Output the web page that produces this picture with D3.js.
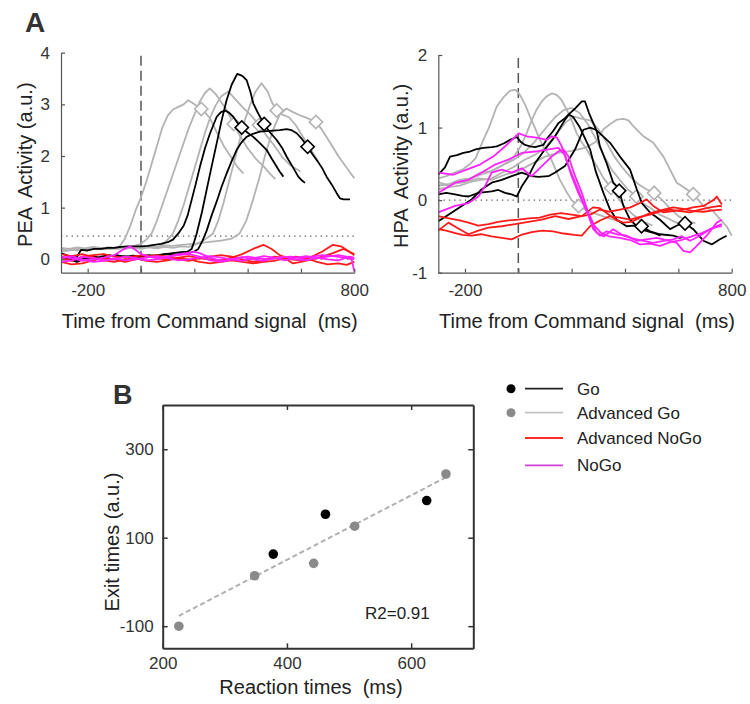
<!DOCTYPE html>
<html>
<head>
<meta charset="utf-8">
<script src="https://cdn.jsdelivr.net/npm/d3@7"></script>
<style>
  body { margin: 0; background: #fff; }
  svg { display: block; }
  text { font-family: 'Liberation Sans', Arial, Helvetica, sans-serif; white-space: pre; }
</style>
</head>
<body>
<svg id="fig" width="750" height="704"></svg>
<script>
// ---------- time axis ----------
const timeDomain = [-300, 800];
const timeTicks = [-200, 0, 200, 400, 600, 800];
const timeTickLabels = [-200, 800];

// ---------- PEA activity (left panel) ----------
const peaTicks = [0, 1, 2, 3, 4];
const peaThreshold = 0.45;
const peaAdvGo = [
  [[-300,0.17],[-275,0.2],[-250,0.18],[-225,0.21],[-200,0.19],[-175,0.22],[-150,0.2],[-125,0.23],[-100,0.22],[-80,0.25],[-60,0.4],[-40,0.65],[-20,0.95],[0,1.2],[20,1.5],[40,1.85],[60,2.2],[80,2.55],[100,2.78],[120,2.9],[140,2.95],[160,3.0],[177,3.08],[195,3.02],[215,2.95],[235,2.88],[260,2.72],[285,2.45],[310,2.2],[335,2.0],[360,1.8],[384,1.66]],
  [[-300,0.22],[-270,0.2],[-240,0.23],[-210,0.21],[-180,0.24],[-150,0.22],[-120,0.2],[-90,0.23],[-60,0.22],[-30,0.25],[0,0.3],[20,0.38],[40,0.5],[60,0.75],[80,1.05],[100,1.35],[120,1.65],[140,1.95],[160,2.25],[180,2.55],[200,2.8],[220,3.05],[240,3.22],[258,3.31],[280,3.2],[300,3.05],[320,2.9],[348,2.62],[370,2.4],[400,2.15],[430,1.95],[460,1.8],[485,1.65],[504,1.55]],
  [[-300,0.18],[-270,0.2],[-240,0.17],[-210,0.2],[-180,0.22],[-150,0.19],[-120,0.21],[-90,0.2],[-60,0.23],[-30,0.21],[0,0.22],[30,0.24],[60,0.22],[80,0.28],[100,0.38],[120,0.5],[140,0.75],[160,1.05],[180,1.4],[200,1.75],[220,2.1],[240,2.45],[260,2.75],[280,2.98],[300,3.15],[327,3.25],[350,3.12],[380,2.95],[410,2.8],[443,2.6],[470,2.4],[500,2.2],[530,1.98],[560,1.82],[598,1.7]],
  [[-300,0.2],[-270,0.18],[-240,0.21],[-210,0.19],[-180,0.22],[-150,0.2],[-120,0.23],[-90,0.21],[-60,0.2],[-30,0.22],[0,0.2],[30,0.23],[60,0.21],[90,0.24],[120,0.22],[150,0.25],[180,0.24],[200,0.28],[230,0.35],[250,0.42],[270,0.5],[290,0.75],[310,1.1],[330,1.5],[350,1.9],[370,2.3],[390,2.7],[410,3.0],[430,3.25],[452,3.41],[475,3.25],[490,3.05],[509,2.88],[530,2.8],[555,2.75],[580,2.6],[610,2.35],[640,2.1],[664,1.9]],
  [[-300,0.15],[-270,0.17],[-240,0.2],[-210,0.18],[-180,0.2],[-150,0.22],[-120,0.2],[-90,0.23],[-60,0.22],[-30,0.24],[0,0.23],[30,0.25],[60,0.24],[90,0.27],[120,0.26],[150,0.28],[200,0.3],[250,0.33],[300,0.36],[340,0.4],[370,0.5],[395,0.75],[420,1.15],[445,1.6],[470,2.1],[495,2.5],[520,2.8],[545,2.92],[570,2.85],[600,2.78],[630,2.72],[656,2.66],[680,2.5],[710,2.25],[740,2.0],[770,1.78],[800,1.57]]
];
const peaGo = [
  [[-300,0.12],[-280,0.08],[-260,0.02],[-240,0.05],[-225,0.18],[-200,0.17],[-175,0.2],[-150,0.2],[-125,0.22],[-100,0.22],[-75,0.24],[-50,0.25],[-25,0.25],[0,0.25],[25,0.26],[50,0.28],[75,0.3],[100,0.33],[120,0.38],[140,0.5],[160,0.65],[175,0.85],[190,1.15],[205,1.45],[221,1.79],[240,2.15],[259,2.44],[284,2.76],[300,2.85],[315,2.88],[330,2.84],[346,2.76],[362,2.64],[380,2.54],[400,2.45],[421,2.37],[446,2.25],[471,2.12],[490,1.95],[509,1.79],[520,1.7],[534,1.6]],
  [[-300,0.05],[-270,0.0],[-240,-0.05],[-210,0.02],[-180,0.0],[-150,0.05],[-120,0.08],[-90,0.05],[-60,0.06],[-30,0.04],[0,0.05],[30,0.06],[60,0.08],[90,0.1],[120,0.12],[150,0.14],[175,0.15],[190,0.2],[200,0.35],[209,0.5],[228,0.9],[246,1.34],[265,1.8],[284,2.25],[302,2.68],[321,3.08],[340,3.38],[361,3.59],[380,3.55],[396,3.47],[410,3.25],[421,3.02],[440,2.82],[459,2.64],[485,2.45],[509,2.31],[530,2.15],[546,1.99],[570,1.78],[590,1.6],[605,1.52],[615,1.48]],
  [[-300,0.0],[-270,0.04],[-240,-0.02],[-210,0.03],[-180,0.06],[-150,0.02],[-120,0.05],[-90,0.08],[-60,0.04],[-30,0.07],[0,0.05],[30,0.08],[60,0.06],[90,0.1],[120,0.08],[150,0.11],[175,0.12],[200,0.15],[215,0.2],[230,0.35],[246,0.55],[265,0.85],[284,1.12],[302,1.4],[321,1.66],[340,1.9],[359,2.12],[378,2.27],[396,2.37],[420,2.43],[446,2.47],[470,2.48],[496,2.49],[520,2.5],[546,2.52],[565,2.5],[584,2.44],[605,2.32],[625,2.18],[645,2.02],[665,1.88],[680,1.76],[696,1.6],[715,1.45],[734,1.28],[746,1.18],[760,1.16],[784,1.16]]
];
const peaAdvNoGo = [
  [[-300,0.02],[-260,-0.03],[-220,0.05],[-180,0.08],[-140,0.1],[-100,0.05],[-60,0.03],[-20,0.06],[20,0.08],[60,0.02],[100,0.0],[140,0.03],[180,0.06],[220,0.02],[260,0.0],[300,-0.02],[340,0.03],[380,0.1],[420,0.2],[459,0.28],[490,0.2],[520,0.08],[560,0.0],[600,-0.02],[640,0.05],[680,0.15],[720,0.28],[750,0.25],[780,0.15],[800,0.08]],
  [[-300,-0.05],[-260,-0.1],[-220,-0.08],[-180,-0.02],[-140,0.02],[-100,0.0],[-60,-0.05],[-20,0.0],[20,0.05],[60,0.08],[100,0.05],[140,0.0],[180,-0.03],[220,0.02],[260,0.05],[300,0.08],[340,0.05],[380,0.0],[420,-0.05],[460,-0.02],[500,0.05],[540,0.02],[570,-0.08],[600,-0.05],[640,0.0],[680,0.05],[720,0.12],[760,0.2],[800,0.1]],
  [[-300,0.1],[-260,0.06],[-220,0.1],[-180,0.04],[-140,-0.02],[-100,-0.05],[-60,0.0],[-20,0.02],[20,-0.03],[60,-0.05],[100,-0.02],[140,0.02],[180,0.0],[220,-0.05],[260,-0.08],[300,-0.05],[340,-0.02],[380,-0.05],[420,-0.08],[460,-0.05],[500,-0.03],[540,0.02],[580,0.05],[620,0.02],[660,-0.05],[700,-0.1],[740,-0.08],[771,-0.11],[800,-0.05]]
];
const peaNoGo = [
  [[-300,0.05],[-260,0.02],[-220,-0.03],[-180,0.0],[-140,0.03],[-100,0.08],[-70,0.18],[-41,0.25],[-20,0.18],[0,0.1],[30,0.05],[60,0.02],[100,0.05],[140,0.1],[170,0.12],[196,0.15],[220,0.12],[250,0.05],[280,0.0],[320,-0.03],[360,0.02],[400,0.05],[440,0.02],[480,0.0],[520,0.03],[560,0.05],[600,0.02],[640,0.05],[680,0.08],[720,0.06],[760,0.03],[790,0.0],[800,-0.24]],
  [[-300,-0.05],[-260,-0.02],[-220,0.05],[-180,0.02],[-140,-0.02],[-100,0.0],[-60,0.05],[-20,0.02],[20,-0.02],[60,0.0],[100,0.04],[140,0.08],[180,0.1],[220,0.05],[260,-0.02],[300,-0.05],[340,0.0],[380,0.04],[420,0.0],[460,-0.03],[500,0.02],[540,0.05],[580,0.0],[620,-0.02],[660,0.03],[700,0.0],[740,-0.02],[780,0.05],[800,0.03]],
  [[-300,0.02],[-260,0.06],[-220,0.0],[-180,-0.05],[-140,-0.03],[-100,0.02],[-60,-0.02],[-20,0.0],[20,0.03],[60,0.06],[100,0.02],[140,-0.02],[180,0.0],[220,0.03],[260,0.06],[300,0.03],[340,0.0],[380,-0.03],[420,0.02],[460,0.06],[500,0.03],[540,-0.02],[580,0.03],[620,0.06],[660,0.02],[700,0.05],[740,0.08],[780,0.04],[800,0.0]]
];

// ---------- HPA activity (right panel) ----------
const hpaTicks = [-1, 0, 1, 2];
const hpaThreshold = 0;
const hpaAdvGo = [
  [[-300,0.3],[-270,0.33],[-240,0.38],[-210,0.42],[-180,0.5],[-160,0.58],[-131,0.83],[-110,1.0],[-81,1.29],[-55,1.42],[-31,1.51],[-10,1.52],[6,1.45],[25,1.32],[44,1.15],[62,1.0],[81,0.83],[100,0.7],[119,0.6],[140,0.42],[156,0.28],[180,0.12],[200,0.0],[226,-0.08],[260,-0.15],[300,-0.2],[340,-0.25],[384,-0.3]],
  [[-300,0.2],[-260,0.22],[-220,0.28],[-180,0.3],[-140,0.35],[-100,0.4],[-60,0.48],[-20,0.58],[10,0.75],[31,0.92],[50,1.1],[69,1.25],[88,1.36],[106,1.43],[125,1.47],[144,1.45],[162,1.38],[181,1.25],[200,1.1],[219,0.92],[237,0.8],[256,0.7],[275,0.58],[294,0.47],[320,0.3],[344,0.19],[370,0.05],[400,-0.1],[430,-0.2],[460,-0.28],[503,-0.35]],
  [[-300,0.25],[-260,0.2],[-220,0.27],[-180,0.3],[-140,0.38],[-100,0.4],[-60,0.48],[-20,0.55],[20,0.65],[60,0.8],[100,0.98],[140,1.15],[170,1.24],[200,1.27],[230,1.2],[260,1.05],[290,0.85],[320,0.62],[350,0.42],[380,0.28],[410,0.15],[443,0.05],[470,-0.05],[500,-0.12],[530,-0.2],[560,-0.25],[598,-0.32]],
  [[-300,0.15],[-260,0.18],[-220,0.2],[-180,0.25],[-140,0.28],[-100,0.3],[-60,0.38],[-20,0.45],[20,0.55],[60,0.62],[100,0.72],[140,0.9],[180,1.08],[210,1.15],[240,1.12],[270,1.1],[300,0.98],[330,0.8],[360,0.6],[390,0.45],[420,0.32],[450,0.22],[480,0.15],[509,0.1],[540,0.0],[570,-0.12],[600,-0.22],[630,-0.28],[664,-0.32]],
  [[-300,0.2],[-250,0.22],[-200,0.25],[-150,0.3],[-100,0.28],[-50,0.35],[0,0.4],[50,0.5],[100,0.6],[150,0.65],[200,0.68],[250,0.72],[290,0.8],[320,0.98],[345,1.05],[370,1.11],[395,1.12],[413,1.1],[431,1.02],[469,0.88],[506,0.79],[544,0.6],[569,0.42],[594,0.24],[631,0.15],[656,0.08],[694,-0.08],[730,-0.15],[760,-0.28],[781,-0.36],[800,-0.49]]
];
const hpaGo = [
  [[-300,0.35],[-275,0.45],[-256,0.6],[-230,0.62],[-206,0.65],[-181,0.67],[-160,0.7],[-131,0.72],[-100,0.73],[-81,0.74],[-55,0.78],[-31,0.83],[-6,0.87],[10,0.8],[25,0.76],[44,0.74],[63,0.73],[94,0.76],[110,0.86],[130,0.95],[150,1.06],[175,1.13],[194,1.2],[215,1.27],[238,1.36],[250,1.36],[265,1.2],[281,1.06],[294,0.95],[306,0.74],[331,0.51],[356,0.24],[375,0.17],[394,-0.08],[419,-0.27],[456,-0.4],[506,-0.45],[533,-0.49]],
  [[-300,0.08],[-270,0.1],[-237,0.08],[-210,0.06],[-187,0.05],[-150,0.1],[-100,0.12],[-75,0.14],[-50,0.1],[-25,0.08],[-6,0.05],[13,0.19],[38,0.33],[63,0.51],[100,0.7],[138,0.88],[175,1.11],[190,1.18],[205,1.15],[231,1.0],[250,0.85],[269,0.7],[290,0.4],[319,0.1],[344,-0.13],[369,-0.27],[406,-0.36],[430,-0.35],[462,-0.36],[494,-0.43],[531,-0.47],[581,-0.49],[606,-0.52],[617,-0.5]],
  [[-300,-0.29],[-262,-0.2],[-212,-0.08],[-175,0.01],[-137,0.15],[-100,0.24],[-62,0.28],[-25,0.33],[13,0.38],[50,0.33],[75,0.32],[113,0.33],[138,0.38],[175,0.47],[213,0.7],[244,0.97],[270,1.0],[290,0.97],[306,0.92],[344,0.79],[381,0.6],[419,0.42],[444,0.15],[463,-0.04],[494,-0.17],[531,-0.27],[569,-0.4],[595,-0.35],[621,-0.31],[656,-0.4],[694,-0.56],[725,-0.61],[756,-0.54],[781,-0.49]]
];
const hpaAdvNoGo = [
  [[-300,-0.22],[-260,-0.25],[-220,-0.28],[-187,-0.31],[-150,-0.35],[-112,-0.33],[-75,-0.3],[-37,-0.28],[0,-0.27],[40,-0.25],[80,-0.24],[120,-0.2],[160,-0.18],[200,-0.2],[238,-0.22],[270,-0.2],[306,-0.13],[340,-0.16],[381,-0.13],[420,-0.1],[456,-0.04],[481,0.01],[506,-0.08],[544,-0.17],[580,-0.15],[619,-0.13],[655,-0.1],[694,-0.08],[731,0.0],[744,0.05],[763,-0.06]],
  [[-300,-0.4],[-270,-0.42],[-240,-0.45],[-210,-0.48],[-175,-0.49],[-140,-0.47],[-100,-0.5],[-62,-0.52],[-25,-0.54],[10,-0.48],[50,-0.44],[90,-0.42],[130,-0.43],[170,-0.46],[210,-0.48],[238,-0.49],[269,-0.36],[306,-0.28],[344,-0.22],[380,-0.24],[419,-0.27],[456,-0.23],[494,-0.2],[530,-0.16],[569,-0.13],[606,-0.15],[644,-0.17],[681,-0.13],[719,-0.1],[756,-0.08],[763,-0.09]],
  [[-300,-0.42],[-262,-0.31],[-230,-0.38],[-187,-0.47],[-150,-0.42],[-112,-0.38],[-62,-0.36],[-12,-0.33],[38,-0.3],[88,-0.27],[138,-0.22],[188,-0.26],[238,-0.22],[280,-0.1],[306,-0.11],[340,-0.2],[370,-0.28],[394,-0.31],[425,-0.3],[456,-0.24],[494,-0.18],[544,-0.13],[580,-0.1],[619,-0.12],[656,-0.15],[694,-0.16],[730,-0.14],[763,-0.13]]
];
const hpaNoGo = [
  [[-300,0.38],[-244,0.35],[-194,0.42],[-144,0.49],[-94,0.6],[-44,0.76],[-10,0.88],[2,0.92],[31,0.88],[69,0.86],[106,0.83],[125,0.88],[145,0.86],[163,0.74],[188,0.47],[219,0.19],[244,-0.04],[262,-0.2],[281,-0.4],[306,-0.49],[331,-0.43],[369,-0.47],[406,-0.49],[444,-0.56],[481,-0.54],[519,-0.52],[556,-0.55],[594,-0.59],[619,-0.7],[644,-0.72],[669,-0.63],[706,-0.49],[744,-0.31],[763,-0.27]],
  [[-300,0.1],[-237,0.24],[-187,0.28],[-137,0.38],[-87,0.49],[-37,0.56],[13,0.65],[63,0.67],[113,0.7],[150,0.72],[175,0.62],[200,0.33],[225,0.1],[250,-0.1],[275,-0.3],[294,-0.45],[320,-0.5],[356,-0.4],[394,-0.49],[431,-0.53],[469,-0.56],[506,-0.59],[544,-0.56],[581,-0.54],[612,-0.5],[644,-0.56],[681,-0.49],[719,-0.4],[756,-0.36],[763,-0.36]],
  [[-300,-0.17],[-237,-0.08],[-187,-0.04],[-150,0.05],[-125,0.19],[-100,0.38],[-62,0.42],[-25,0.38],[13,0.44],[50,0.33],[88,0.47],[125,0.6],[150,0.67],[169,0.7],[188,0.6],[213,0.33],[238,0.1],[260,-0.15],[285,-0.35],[310,-0.45],[340,-0.5],[380,-0.52],[420,-0.55],[456,-0.61],[494,-0.6],[531,-0.63],[570,-0.58],[610,-0.55],[650,-0.5],[690,-0.45],[730,-0.38],[763,-0.33]]
];

// ---------- reaction / exit times (panel B) ----------
const goRT = [378, 462, 625];
const goExit = [63, 153, 184];
const advGoRT = [226, 348, 443, 509, 656];
const advGoExit = [-100, 14, 42, 126, 244];
const rtTicks = [200, 400, 600];
const exitTicks = [-100, 100, 300];
const r2Label = "R2=0.91";

// ---------- legend ----------
const legendLabels = ["Go", "Advanced Go", "Advanced NoGo", "NoGo"];

// ---------- drawing ----------
const FONT = "'Liberation Sans', Arial, Helvetica, sans-serif";
const COL = { go: "#000000", advGo: "#b3b3b3", advGoDot: "#8a8a8a", advNoGo: "#ff1a1a", noGo: "#ff22ff", axis: "#555555", text: "#222222" };
const svg = d3.select("#fig");

function valueAt(trace, t) {
  const i = d3.bisector(d => d[0]).left(trace, t);
  if (i <= 0) return trace[0][1];
  if (i >= trace.length) return trace[trace.length - 1][1];
  const a = trace[i - 1], b = trace[i];
  return a[1] + (b[1] - a[1]) * (t - a[0]) / (b[0] - a[0]);
}

const diamond = d3.symbol().type(d3.symbolSquare).size(88);

function tracePanel(o) {
  const x = d3.scaleLinear().domain(timeDomain).range([o.x0, o.x1]);
  const y = d3.scaleLinear().domain(o.yDomain).range([o.yBottom, o.yTop]);
  const g = svg.append("g");
  const clipId = "clip-" + o.id;
  svg.append("clipPath").attr("id", clipId).append("rect")
    .attr("x", o.x0).attr("y", o.yTop - 10).attr("width", o.x1 - o.x0 + 2).attr("height", o.yBottom - o.yTop + 10);

  // reference lines
  o.dotted.forEach(v => {
    g.append("line").attr("x1", x(timeDomain[0])).attr("x2", x(timeDomain[1]))
      .attr("y1", y(v)).attr("y2", y(v))
      .attr("stroke", "#555").attr("stroke-width", 1.2).attr("stroke-dasharray", "1.3,4");
  });
  g.append("line").attr("x1", x(0)).attr("x2", x(0))
    .attr("y1", o.yTop + 3).attr("y2", o.yBottom)
    .attr("stroke", "#555").attr("stroke-width", 1.5).attr("stroke-dasharray", "10,5");

  const line = d3.line().x(d => x(d[0])).y(d => y(d[1]));
  const plot = g.append("g").attr("clip-path", `url(#${clipId})`);

  function traces(data, color) {
    plot.selectAll(null).data(data).enter().append("path")
      .attr("d", line).attr("fill", "none").attr("stroke", color)
      .attr("stroke-width", 1.8).attr("stroke-linejoin", "round");
  }
  function diamonds(data, rts, color) {
    plot.selectAll(null).data(data).enter().append("path")
      .attr("d", diamond)
      .attr("transform", (d, i) => `translate(${x(rts[i])},${y(valueAt(d, rts[i]))}) rotate(45)`)
      .attr("fill", "#fff").attr("stroke", color).attr("stroke-width", 1.6);
  }
  traces(o.advGo, COL.advGo);
  diamonds(o.advGo, advGoRT, COL.advGo);
  traces(o.go, COL.go);
  diamonds(o.go, goRT, COL.go);
  traces(o.advNoGo, COL.advNoGo);
  traces(o.noGo, COL.noGo);

  // axes
  const yAx = g.append("g").attr("transform", `translate(${o.x0},0)`)
    .call(d3.axisLeft(y).tickValues(o.yTicks).tickSizeInner(-4).tickSizeOuter(0).tickPadding(11).tickFormat(d => String(d)));
  const xAx = g.append("g").attr("transform", `translate(0,${o.yBottom})`)
    .call(d3.axisBottom(x).tickValues(timeTicks).tickSizeInner(-4).tickSizeOuter(0).tickPadding(11)
      .tickFormat(d => timeTickLabels.includes(d) ? String(d) : ""));
  [yAx, xAx].forEach(a => {
    a.select(".domain").attr("stroke", COL.axis).attr("stroke-width", 1.2);
    a.selectAll(".tick line").attr("stroke", COL.axis).attr("stroke-width", 1.2);
    a.selectAll("text").attr("font-family", FONT).attr("font-size", 17).attr("fill", "#333");
  });

  g.append("text").attr("transform", `translate(${o.yLabelX},${(o.yTop + o.yBottom) / 2 + 2}) rotate(-90)`)
    .attr("text-anchor", "middle").attr("dy", "0.35em").attr("font-size", 20).attr("fill", COL.text)
    .text(o.yLabel);
  g.append("text").attr("x", (o.x0 + o.x1) / 2 + 2).attr("y", o.xLabelY)
    .attr("text-anchor", "middle").attr("font-size", 20).attr("fill", COL.text)
    .text("Time from Command signal  (ms)");
}

tracePanel({
  id: "pea", x0: 61, x1: 354.3, yTop: 52.7, yBottom: 272.7, yDomain: [-0.26, 4], yTicks: peaTicks,
  dotted: [peaThreshold, 0], yLabel: "PEA  Activity (a.u.)", yLabelX: 25, xLabelY: 328,
  advGo: peaAdvGo, go: peaGo, advNoGo: peaAdvNoGo, noGo: peaNoGo
});
tracePanel({
  id: "hpa", x0: 438.3, x1: 731.7, yTop: 55, yBottom: 272.7, yDomain: [-1, 2], yTicks: hpaTicks,
  dotted: [hpaThreshold], yLabel: "HPA  Activity (a.u.)", yLabelX: 401, xLabelY: 328,
  advGo: hpaAdvGo, go: hpaGo, advNoGo: hpaAdvNoGo, noGo: hpaNoGo
});

// panel letters
svg.append("text").attr("x", 25).attr("y", 32).attr("font-size", 28).attr("font-weight", "bold").attr("fill", "#333").text("A");
svg.append("text").attr("x", 113).attr("y", 404).attr("font-size", 27).attr("font-weight", "bold").attr("fill", "#333").text("B");

// ---------- panel B: exit vs reaction times ----------
(function () {
  const bx = d3.scaleLinear().domain([200, 700]).range([162.7, 473.3]);
  const by = d3.scaleLinear().domain([-150, 400]).range([648.3, 405]);
  const g = svg.append("g");
  const [xl, xr] = bx.range(), [yb, yt] = by.range();

  const axes = [
    g.append("g").attr("transform", `translate(0,${yb})`).call(d3.axisBottom(bx).tickValues(rtTicks).tickSizeInner(-5).tickSizeOuter(0).tickPadding(9).tickFormat(d => String(d))),
    g.append("g").attr("transform", `translate(0,${yt})`).call(d3.axisTop(bx).tickValues(rtTicks).tickSizeInner(-5).tickSizeOuter(0).tickFormat(() => "")),
    g.append("g").attr("transform", `translate(${xl},0)`).call(d3.axisLeft(by).tickValues(exitTicks).tickSizeInner(-5).tickSizeOuter(0).tickPadding(9).tickFormat(d => String(d))),
    g.append("g").attr("transform", `translate(${xr},0)`).call(d3.axisRight(by).tickValues(exitTicks).tickSizeInner(-5).tickSizeOuter(0).tickFormat(() => ""))
  ];
  axes.forEach(a => {
    a.select(".domain").attr("stroke", "#333").attr("stroke-width", 2);
    a.selectAll(".tick line").attr("stroke", "#333").attr("stroke-width", 1.5);
    a.selectAll("text").attr("font-family", FONT).attr("font-size", 17).attr("fill", "#333");
  });

  // least-squares fit over all trials
  const pts = goRT.map((r, i) => [r, goExit[i]]).concat(advGoRT.map((r, i) => [r, advGoExit[i]]));
  const mx = d3.mean(pts, p => p[0]), my = d3.mean(pts, p => p[1]);
  const slope = d3.sum(pts, p => (p[0] - mx) * (p[1] - my)) / d3.sum(pts, p => (p[0] - mx) ** 2);
  const [rmin, rmax] = d3.extent(pts, p => p[0]);
  g.append("line")
    .attr("x1", bx(rmin)).attr("y1", by(my + slope * (rmin - mx)))
    .attr("x2", bx(rmax)).attr("y2", by(my + slope * (rmax - mx)))
    .attr("stroke", "#b0b0b0").attr("stroke-width", 2).attr("stroke-dasharray", "5,3");

  g.selectAll(null).data(advGoRT).enter().append("circle")
    .attr("cx", d => bx(d)).attr("cy", (d, i) => by(advGoExit[i])).attr("r", 4.8).attr("fill", COL.advGoDot);
  g.selectAll(null).data(goRT).enter().append("circle")
    .attr("cx", d => bx(d)).attr("cy", (d, i) => by(goExit[i])).attr("r", 4.8).attr("fill", COL.go);

  g.append("text").attr("x", 365).attr("y", 619).attr("font-size", 17).attr("fill", COL.text).text(r2Label);
  g.append("text").attr("transform", `translate(112,542) rotate(-90)`).attr("text-anchor", "middle")
    .attr("dy", "0.35em").attr("font-size", 20).attr("fill", COL.text).text("Exit times (a.u.)");
  g.append("text").attr("x", 311).attr("y", 694).attr("text-anchor", "middle")
    .attr("font-size", 20).attr("fill", COL.text).text("Reaction times  (ms)");
})();

// ---------- legend ----------
(function () {
  const rows = [
    { label: legendLabels[0], line: "#222", dot: COL.go, y: 388.7 },
    { label: legendLabels[1], line: "#c4c4c4", dot: COL.advGoDot, y: 412.7 },
    { label: legendLabels[2], line: "#ff2a2a", dot: null, y: 438 },
    { label: legendLabels[3], line: "#d23fd8", dot: null, y: 465.3 }
  ];
  const g = svg.append("g");
  rows.forEach(r => {
    if (r.dot) g.append("circle").attr("cx", 511).attr("cy", r.y).attr("r", 4.5).attr("fill", r.dot);
    g.append("line").attr("x1", 525).attr("x2", 563).attr("y1", r.y).attr("y2", r.y)
      .attr("stroke", r.line).attr("stroke-width", 1.8);
    g.append("text").attr("x", 577).attr("y", r.y).attr("dy", "0.35em")
      .attr("font-size", 17).attr("fill", COL.text).text(r.label);
  });
})();
</script>
</body>
</html>
